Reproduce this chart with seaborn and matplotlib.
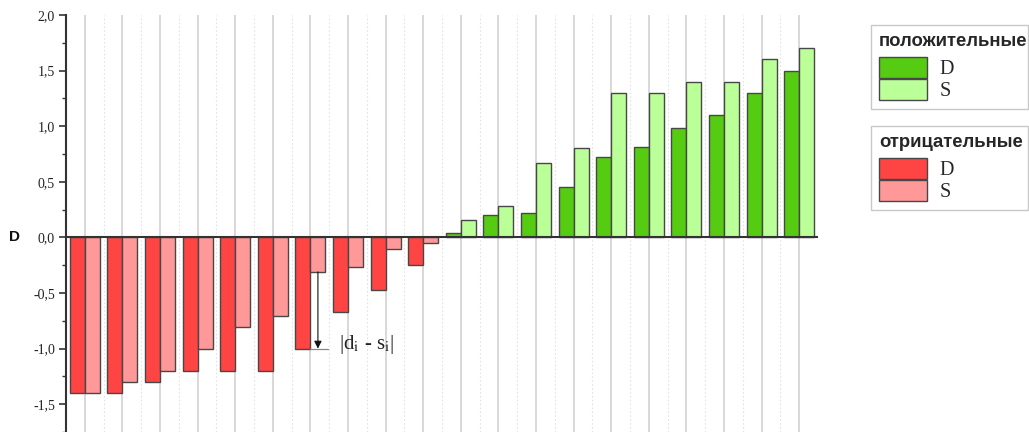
import matplotlib
matplotlib.use("Agg")
import matplotlib.pyplot as plt
import numpy as np
import pandas as pd
import seaborn as sns
from matplotlib.patches import Patch
from matplotlib.ticker import MultipleLocator, FuncFormatter

# ---- data ----
groups = list(range(1, 21))
d_values = [-1.40, -1.40, -1.30, -1.20, -1.20, -1.20, -1.00, -0.67, -0.47, -0.25,
            0.04, 0.20, 0.22, 0.45, 0.72, 0.81, 0.98, 1.10, 1.30, 1.50]
s_values = [-1.40, -1.30, -1.20, -1.00, -0.81, -0.71, -0.31, -0.27, -0.10, -0.05,
            0.16, 0.28, 0.67, 0.80, 1.30, 1.30, 1.40, 1.40, 1.60, 1.70]
series_labels = ["D", "S"]
legend_pos_title = "положительные"
legend_neg_title = "отрицательные"
y_label = "D"
annot_text = r"|d$_{\mathrm{i}}$ - s$_{\mathrm{i}}$|"
annot_group = 7  # group with annotated difference

colors = {("D", "pos"): "#55cc11", ("S", "pos"): "#bbff99",
          ("D", "neg"): "#ff4444", ("S", "neg"): "#ff9999"}
edge = "#474747"

sns.set_theme(style="white")
plt.rcParams["font.family"] = ["Liberation Serif", "DejaVu Serif"]
plt.rcParams["mathtext.fontset"] = "stix"

df = pd.DataFrame({
    "group": groups * 2,
    "kind": ["D"] * len(groups) + ["S"] * len(groups),
    "value": d_values + s_values,
})

W, H = 1029, 432
fig = plt.figure(figsize=(W / 100, H / 100), dpi=100)
ax = fig.add_axes([66 / W, 0, 752 / W, 417 / H])

n = len(groups)
for i in range(n):
    ax.axvline(i, color="#d6d6d6", lw=1.3, zorder=0)
    ax.axvline(i + 0.5, color="#e2e2e2", lw=0.8, ls=(0, (1.5, 2)), zorder=0)

sns.barplot(data=df, x="group", y="value", hue="kind", hue_order=series_labels,
            width=0.8, errorbar=None, edgecolor=edge, linewidth=1.0,
            legend=False, ax=ax, zorder=2)

for kind, cont in zip(series_labels, ax.containers):
    for bar in cont:
        sign = "pos" if bar.get_height() > 0 else "neg"
        bar.set_facecolor(colors[(kind, sign)])
        bar.set_edgecolor(edge)

ax.axhline(0, color="#333333", lw=1.5, zorder=4)

ax.set_xlim(-0.5, n - 0.5)
ax.set_ylim(-1.75, 2.0)
ax.set_xticks([])
ax.set_xlabel("")
ax.set_ylabel("")
for s in ["top", "right", "bottom"]:
    ax.spines[s].set_visible(False)
ax.spines["left"].set_color("#333333")
ax.spines["left"].set_linewidth(1.5)
ax.yaxis.set_major_locator(MultipleLocator(0.5))
ax.yaxis.set_minor_locator(MultipleLocator(0.25))
ax.yaxis.set_major_formatter(FuncFormatter(lambda v, p: f"{v:.1f}".replace(".", ",")))
ax.tick_params(axis="y", which="major", direction="out", length=5, width=1.2,
               color="#333333", labelsize=10, labelcolor="#222222", left=True, pad=3)
ax.tick_params(axis="y", which="minor", direction="out", length=3, width=1.0,
               color="#333333", left=True)
ax.set_facecolor("white")

fig.text(15 / W, 1 - 237 / H, y_label, ha="center", va="center",
         fontsize=11, fontweight="bold", family="Liberation Sans", color="#111111")

# annotation of |d_i - s_i|
k = annot_group - 1
xa = k + 0.2
ax.annotate("", xy=(xa, d_values[k]), xytext=(xa, s_values[k]),
            arrowprops=dict(arrowstyle="-|>", color="#111111", lw=0.8,
                            mutation_scale=11, shrinkA=0, shrinkB=0), zorder=5)
ax.plot([k, k + 0.48], [d_values[k], d_values[k]], color="#888888", lw=0.9, zorder=5)
ax.text(k + 0.75, d_values[k] + 0.04, annot_text, ha="left", va="center",
        fontsize=15, color="#222222", zorder=5)

# legends
title_fp = {"family": "Liberation Sans", "weight": "bold", "size": 13.3}
for title, sign, top in [(legend_pos_title, "pos", 25), (legend_neg_title, "neg", 126)]:
    handles = [Patch(facecolor=colors[(kd, sign)], edgecolor=edge, lw=1.0) for kd in series_labels]
    leg = fig.legend(handles=handles, labels=series_labels, title=title,
                     loc="upper left", bbox_to_anchor=(871 / W, 1 - top / H - 90 / H, 157 / W, 90 / H),
                     mode="expand", frameon=True, fancybox=False, edgecolor="#bbbbbb",
                     fontsize=14.5, title_fontproperties=title_fp, alignment="left",
                     handlelength=2.4, handleheight=1.2, labelspacing=0.0,
                     borderaxespad=0, borderpad=0.4, handletextpad=0.6)
    leg.get_frame().set_linewidth(1.0)
    leg._legend_box.sep = 5

fig.savefig("out.png", dpi=100, facecolor="white")
